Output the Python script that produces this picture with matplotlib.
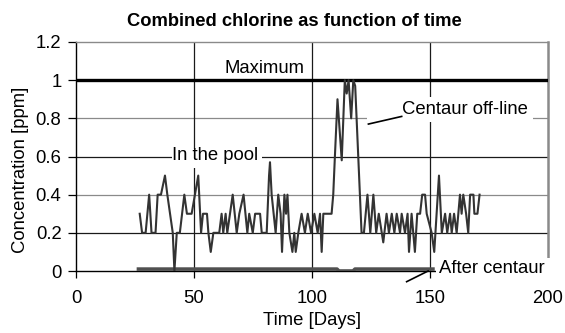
import matplotlib
matplotlib.use("Agg")
import matplotlib.pyplot as plt
from matplotlib.patches import Rectangle

plt.rcParams['font.family'] = ['Liberation Sans', 'DejaVu Sans']

# ---- data ----
pool_days = [27, 28, 29.5, 31, 32, 33.7, 34.6, 36, 37.7, 38.7, 41, 41.7, 42.7, 44, 45.9, 47,
             49, 51.8, 53, 53.8, 55.5, 56.1, 57.1, 58.2, 60.7, 61.7, 62.4, 63.4, 64.1, 66.4, 68.1, 69.2, 71,
             72.6, 73.4, 74.9, 75.9, 78,
             78.7, 80.8, 81.8, 82.2, 82.9, 84.6, 85.7, 86.7, 87.3, 88.3, 89, 89.6, 90.4, 91.7, 92.5, 93.1,
             94.2, 95.6, 97, 98.2, 99.6, 101, 102.4, 103.4, 104.1, 104.8, 108.3,
             109, 109.7, 110.8, 112.6, 113.9, 114.7, 115.5, 116.6, 117.5, 118.3, 121,
             122, 123.5, 124.7, 126, 127.2, 128.3, 130.2, 131.6, 132.6, 133.8, 134.9, 135.9, 137.3, 138,
             139.4, 140.5, 141.1, 142.2, 143.6, 144.6, 145.8, 146.7, 147.9, 148.6, 150.7, 151.8, 152.8,
             153.8, 155, 156.4, 157.3, 158.5, 159.2, 160.2, 161.3, 162, 162.7, 163.4, 164.1, 165.3, 166.2,
             167, 168.4, 168.8, 170.1, 171]
pool_conc = [0.3, 0.2, 0.2, 0.4, 0.2, 0.2, 0.4, 0.4, 0.5, 0.4, 0.2, 0.0, 0.2, 0.2, 0.4, 0.3,
             0.3, 0.5, 0.2, 0.3, 0.3, 0.2, 0.1, 0.2, 0.2, 0.3, 0.2, 0.3, 0.2, 0.4, 0.2, 0.3, 0.4,
             0.2, 0.3, 0.2, 0.3, 0.3,
             0.2, 0.2, 0.5, 0.57, 0.4, 0.2, 0.4, 0.3, 0.1, 0.4, 0.3, 0.4, 0.2, 0.1, 0.2, 0.1,
             0.2, 0.3, 0.2, 0.3, 0.2, 0.3, 0.2, 0.3, 0.1, 0.3, 0.3,
             0.4, 0.6, 0.9, 0.58, 1.0, 0.93, 1.0, 0.8, 1.0, 0.97, 0.2,
             0.2, 0.4, 0.2, 0.4, 0.2, 0.3, 0.15, 0.3, 0.2, 0.3, 0.2, 0.3, 0.2, 0.3,
             0.2, 0.3, 0.1, 0.3, 0.1, 0.3, 0.3, 0.4, 0.4, 0.3, 0.2, 0.1, 0.3,
             0.5, 0.2, 0.3, 0.2, 0.3, 0.2, 0.3, 0.2, 0.3, 0.4, 0.3, 0.4, 0.3, 0.2,
             0.4, 0.4, 0.3, 0.3, 0.4]

after_days = [25.7, 110.6, 111.4, 117.4, 118.2, 152]
after_conc = [0.01, 0.01, 0.0, 0.0, 0.01, 0.01]

max_days = [0, 200]
max_conc = [1.0, 1.0]

x_ticks = [0, 50, 100, 150, 200]
y_ticks = [0, 0.2, 0.4, 0.6, 0.8, 1.0, 1.2]
y_tick_labels = ['0', '0.2', '0.4', '0.6', '0.8', '1', '1.2']

title = 'Combined chlorine as function of time'
xlabel = 'Time [Days]'
ylabel = 'Concentration [ppm]'

# ---- figure ----
W, H = 565, 333
fig = plt.figure(figsize=(W / 100, H / 100), dpi=100)
ax = fig.add_axes([76 / W, 1 - 271 / H, 472 / W, 229 / H])
ax.set_xlim(0, 200)
ax.set_ylim(0, 1.2)

FS = 13.3

# gridlines
hgrid_colors = {0.2: '#1a1a1a', 0.4: '#8a8a8a', 0.6: '#1a1a1a', 0.8: '#8a8a8a'}
for v, c in hgrid_colors.items():
    ax.axhline(v, color=c, lw=0.9, zorder=1)
for d in [50, 100, 150]:
    ax.axvline(d, color='#1a1a1a', lw=0.9, zorder=1)

# white label boxes covering gridlines
ax.add_patch(Rectangle((123.3, 0.782), 70.3, 0.131, facecolor='white', edgecolor='none', zorder=2))
ax.add_patch(Rectangle((40.6, 0.54), 38.1, 0.10, facecolor='white', edgecolor='none', zorder=2))

# series
ax.plot(max_days, max_conc, color='black', lw=2.4, zorder=3, solid_capstyle='butt')
ax.plot(after_days, after_conc, color='#505050', lw=2.6, zorder=3, solid_capstyle='butt')
ax.plot(pool_days, pool_conc, color='#333333', lw=1.5, zorder=4)

# spines
for s in ['left', 'bottom']:
    ax.spines[s].set_color('black')
    ax.spines[s].set_linewidth(1.0)
for s in ['top', 'right']:
    ax.spines[s].set_color('#8a8a8a')
ax.spines['top'].set_linewidth(1.0)
ax.spines['right'].set_linewidth(1.8)

ax.set_xticks(x_ticks)
ax.set_yticks(y_ticks)
ax.set_yticklabels(y_tick_labels)
ax.tick_params(axis='x', direction='out', length=5, width=0.9, color='black', pad=9, labelsize=FS)
ax.tick_params(axis='y', direction='out', length=5.5, width=0.9, color='black', pad=5, labelsize=FS)

ax.set_xlabel(xlabel, fontsize=FS, labelpad=3)
ax.set_ylabel(ylabel, fontsize=FS)
ax.yaxis.set_label_coords(-0.10, 0.44)

fig.text(294.5 / W, 1 - 21.6 / H, title, fontsize=13.2, fontweight='bold', ha='center', va='center')

# annotations
ax.text(80, 1.038, 'Maximum', fontsize=FS, ha='center', va='baseline', zorder=6)
ax.text(59.1, 0.583, 'In the pool', fontsize=FS, ha='center', va='baseline', zorder=6)
ax.text(138.3, 0.824, 'Centaur off-line', fontsize=FS, ha='left', va='baseline', zorder=6)
ax.plot([123.9, 138.0], [0.770, 0.810], color='black', lw=1.2, zorder=6)

ax.add_patch(Rectangle((152.4, -0.06), 60, 0.128, facecolor='white', edgecolor='none',
                       zorder=7, clip_on=False))
ax.text(153.8, -0.009, 'After centaur', fontsize=FS, ha='left', va='baseline', zorder=8, clip_on=False)
ax.plot([140.1, 149.2], [-0.056, 0.0], color='black', lw=1.2, zorder=8, clip_on=False)

fig.savefig('out.png', dpi=100)
